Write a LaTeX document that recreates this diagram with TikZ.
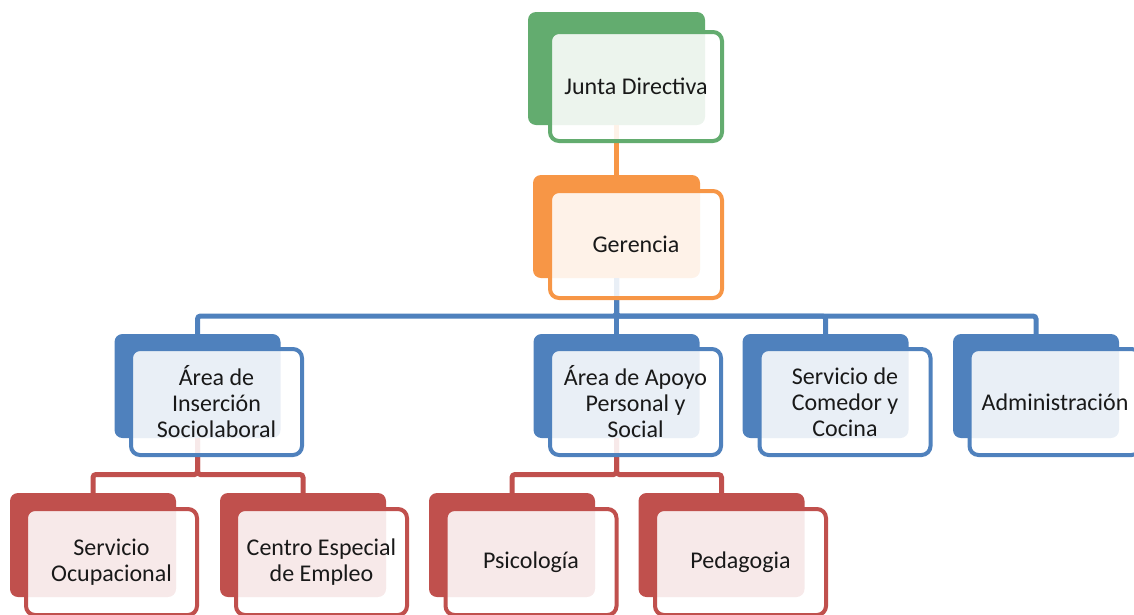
\documentclass[tikz,border=0pt]{standalone}
\usepackage{fontspec}
\setmainfont{Carlito}
\definecolor{verde}{HTML}{63AC6F}
\definecolor{naranja}{HTML}{F79646}
\definecolor{azul}{HTML}{4F81BD}
\definecolor{rojo}{HTML}{C0504D}
\begin{document}
\begin{tikzpicture}[x=1pt,y=-1pt,
    back/.style={fill=#1, rounded corners=8pt, inner sep=0pt, minimum width=166pt, minimum height=104pt},
    front/.style={draw=#1, line width=4pt, fill=white, fill opacity=0.88, text opacity=1,
        rounded corners=9pt, inner sep=0pt, align=center, text=black!90,
        minimum width=171pt, minimum height=106pt, font=\fontsize{24}{26}\selectfont},
    conn/.style={draw=#1, line width=5pt, rounded corners=3pt}]
    \useasboundingbox (0,0) rectangle (1134,614);
    \clip (0,0) rectangle (1134,614);
    % cajas de fondo
    \node [back=verde, minimum width=177pt, minimum height=113pt] (junta) at (616.5,68.5) {};
    \node [back=naranja, minimum width=167pt, minimum height=103pt] (gerencia) at (616.5,226.5) {};
    \node [back=azul] (insercion) at (197.5,386) {};
    \node [back=azul] (apoyo) at (616.5,386) {};
    \node [back=azul] (comedor) at (825.5,386) {};
    \node [back=azul] (admin) at (1036,386) {};
    \node [back=rojo] (ocupacional) at (93,545) {};
    \node [back=rojo] (centro) at (303,545) {};
    \node [back=rojo] (psico) at (512,545) {};
    \node [back=rojo] (pedago) at (721.5,545) {};
    % conectores
    \coordinate (busazul) at (0,316);
    \coordinate (busrojo) at (0,474.5);
    \draw [conn=naranja] (junta.south) -- (gerencia.north);
    \foreach \n in {insercion,apoyo,comedor,admin}
        \draw [conn=azul] (gerencia.south) -- (gerencia.south |- busazul) -| (\n.north);
    \foreach \n in {ocupacional,centro}
        \draw [conn=rojo] (insercion.south) -- (insercion.south |- busrojo) -| (\n.north);
    \foreach \n in {psico,pedago}
        \draw [conn=rojo] (apoyo.south) -- (apoyo.south |- busrojo) -| (\n.north);
    % cajas de texto
    \node [front=verde, minimum width=172pt, minimum height=109pt] (junta-t) at (636,86.5) {Junta Directiva};
    \node [front=naranja, minimum width=172pt, minimum height=107pt] (gerencia-t) at (636,244.5) {Gerencia};
    \node [front=azul] (insercion-t) at (216.5,402) {Área de\\Inserción\\Sociolaboral};
    \node [front=azul] (apoyo-t) at (635.5,402) {Área de Apoyo\\Personal y\\Social};
    \node [front=azul] (comedor-t) at (845,402) {Servicio de\\Comedor y\\Cocina};
    \node [front=azul] (admin-t) at (1055,402) {Administración};
    \node [front=rojo] (ocupacional-t) at (111.5,562) {Servicio\\Ocupacional};
    \node [front=rojo] (centro-t) at (321.5,562) {Centro Especial\\de Empleo};
    \node [front=rojo] (psico-t) at (531,562) {Psicología};
    \node [front=rojo] (pedago-t) at (740.5,562) {Pedagogia};
\end{tikzpicture}
\end{document}
